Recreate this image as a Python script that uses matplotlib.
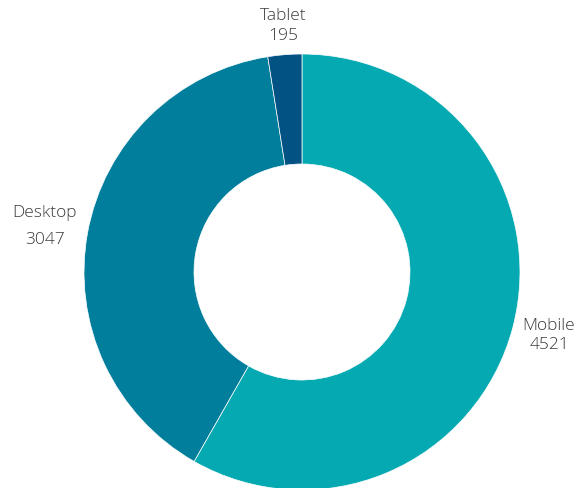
import matplotlib.pyplot as plt

labels = ['Mobile', 'Desktop', 'Tablet']
values = [4521, 3047, 195]
colors = ['#05a9b1', '#017e9c', '#025384']

fig = plt.figure(figsize=(5.82, 4.88), dpi=100)
ax = fig.add_axes([0, 0, 1, 1])

ax.pie(values, colors=colors, startangle=90, counterclock=False,
       center=(302, 216), radius=218, frame=True,
       wedgeprops=dict(width=110, edgecolor='white', linewidth=0.5))
ax.set_xlim(0, 582)
ax.set_ylim(0, 488)
ax.set_aspect('equal')
ax.axis('off')

# label positions (pixels, from top)
lab_pos = {'Mobile': (549, 326, 345), 'Desktop': (45, 213, 240), 'Tablet': (283, 16, 36)}
for name, val in zip(labels, values):
    x, y1, y2 = lab_pos[name]
    ax.text(x, 488 - y1, name, ha='center', va='center', fontsize=12.5,
            family='Open Sans', weight='light', color='#3a3a3a')
    ax.text(x, 488 - y2, str(val), ha='center', va='center', fontsize=12.5,
            family='Open Sans', weight='light', color='#3a3a3a')

fig.savefig('out.png', dpi=100)
